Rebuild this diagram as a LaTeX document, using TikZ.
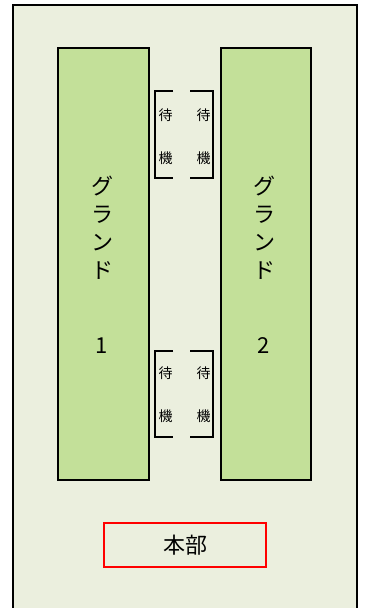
\documentclass[tikz,border=0pt]{standalone}
\usepackage{fontspec}
\setmainfont{Noto Sans CJK JP}
\definecolor{bgc}{HTML}{EBEFDE}
\definecolor{grn}{HTML}{C3E099}
\definecolor{redc}{HTML}{FF0000}
\begin{document}
\begin{tikzpicture}[x=1pt,y=-1pt,
  ground/.style={draw=black,line width=1.5pt,fill=grn,inner sep=0pt},
  gtext/.style={font=\fontsize{22}{28}\selectfont,align=center,inner sep=0pt},
  wtext/.style={font=\fontsize{14}{43}\selectfont,align=center,inner sep=0pt},
  brk/.style={draw=black,line width=1.5pt},
  hq/.style={draw=redc,line width=1.5pt,fill=bgc,font=\fontsize{22}{24}\selectfont}]
\useasboundingbox (0,0) rectangle (366,608);
\clip (0,0) rectangle (366,608);
\fill[white] (0,0) rectangle (366,608);
\draw[fill=bgc,line width=2pt] (13,5) rectangle (357,625);
% grounds
\node[ground,minimum width=91pt,minimum height=432pt] (g1) at (103.5,264) {};
\node[ground,minimum width=90pt,minimum height=432pt] (g2) at (266,264) {};
\node[gtext] (t1) at (102,265) {グ\\ラ\\ン\\ド\\[47pt]1};
\node[gtext] (t2) at (264,265) {グ\\ラ\\ン\\ド\\[47pt]2};
% waiting brackets top
\coordinate (a1) at (173,91);
\coordinate (a2) at (155,91);
\coordinate (a3) at (155,178);
\coordinate (a4) at (173,178);
\draw[brk] (a1) -- (a2) -- (a3) -- (a4);
\coordinate (b1) at (190,91);
\coordinate (b2) at (213,91);
\coordinate (b3) at (213,178);
\coordinate (b4) at (190,178);
\draw[brk] (b1) -- (b2) -- (b3) -- (b4);
\node[wtext] (w1) at (165.5,137) {待\\機};
\node[wtext] (w2) at (203.5,137) {待\\機};
% waiting brackets bottom
\coordinate (c1) at (173,351);
\coordinate (c2) at (155,351);
\coordinate (c3) at (155,437);
\coordinate (c4) at (173,437);
\draw[brk] (c1) -- (c2) -- (c3) -- (c4);
\coordinate (d1) at (190,351);
\coordinate (d2) at (213,351);
\coordinate (d3) at (213,437);
\coordinate (d4) at (190,437);
\draw[brk] (d1) -- (d2) -- (d3) -- (d4);
\node[wtext] (w3) at (165.5,395) {待\\機};
\node[wtext] (w4) at (203.5,395) {待\\機};
% headquarters
\node[hq,minimum width=162pt,minimum height=44pt] (hq) at (185,545) {本部};
\end{tikzpicture}
\end{document}
